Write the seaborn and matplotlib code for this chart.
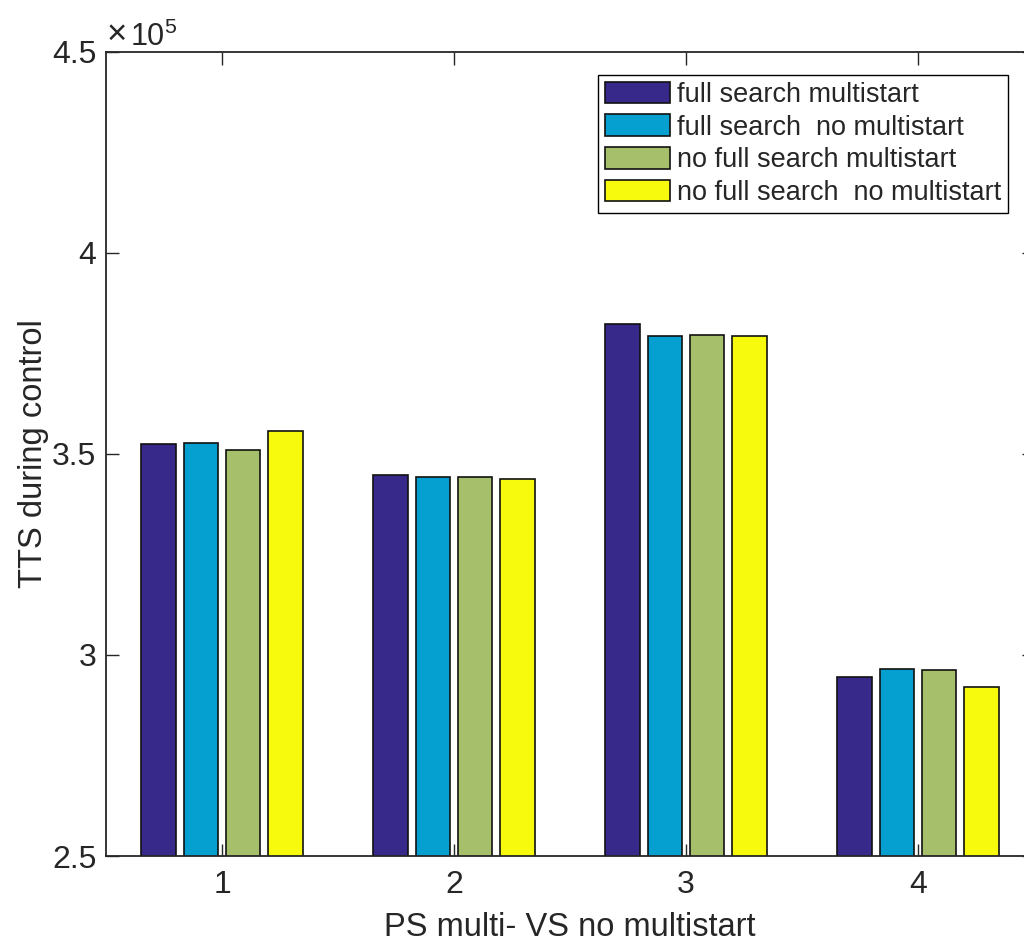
import matplotlib
matplotlib.use("Agg")
import matplotlib.pyplot as plt
import seaborn as sns
import pandas as pd
from matplotlib.ticker import FuncFormatter

categories = ["1", "2", "3", "4"]
series_names = ["full search multistart", "full search  no multistart",
                "no full search multistart", "no full search  no multistart"]
fs_multi = [3.525e5, 3.448e5, 3.823e5, 2.945e5]
fs_nomulti = [3.527e5, 3.443e5, 3.794e5, 2.965e5]
nofs_multi = [3.510e5, 3.443e5, 3.796e5, 2.963e5]
nofs_nomulti = [3.557e5, 3.438e5, 3.794e5, 2.920e5]
colors = ["#36298a", "#05a0d0", "#a6bf6a", "#f8fa0d"]
yticks = [2.5e5, 3.0e5, 3.5e5, 4.0e5, 4.5e5]

rows = []
for name, vals in zip(series_names, [fs_multi, fs_nomulti, nofs_multi, nofs_nomulti]):
    for c, v in zip(categories, vals):
        rows.append({"group": c, "series": name, "TTS": v})
df = pd.DataFrame(rows)

sns.set_theme(style="white")
plt.rcParams["font.family"] = ["Liberation Sans", "DejaVu Sans"]
plt.rcParams["mathtext.fontset"] = "custom"
plt.rcParams["mathtext.rm"] = "Liberation Sans"
plt.rcParams["mathtext.it"] = "Liberation Sans"

fig = plt.figure(figsize=(10.24, 9.47), dpi=100)
ax = fig.add_axes([106/1024, 1 - 856/947, (1034 - 106)/1024, (856 - 52)/947])

sns.barplot(data=df, x="group", y="TTS", hue="series", order=categories,
            hue_order=series_names, palette=colors, width=0.725, gap=0.17,
            edgecolor="#111111", linewidth=1.2, errorbar=None, ax=ax, saturation=1)

ax.set_xlim(-0.5, 3.5)
ax.set_ylim(2.5e5, 4.5e5)
ax.set_yticks(yticks)
ax.yaxis.set_major_formatter(FuncFormatter(lambda v, p: "%g" % (v / 1e5)))
ax.tick_params(axis="both", direction="in", length=9, width=1.0, color="#262626",
               labelsize=23, labelcolor="#262626", top=True, right=True,
               left=True, bottom=True)
ax.tick_params(axis="y", pad=7)
ax.tick_params(axis="x", pad=10)
for s in ax.spines.values():
    s.set_visible(True)
    s.set_color("#262626")
    s.set_linewidth(1.3)

ax.set_xlabel("PS multi- VS no multistart", fontsize=23.5, color="#262626", labelpad=9)
ax.set_ylabel("TTS during control", fontsize=23.5, color="#262626", labelpad=2)
fig.text(107/1024, 1 - 44/947, "×", fontsize=25, color="#262626",
         ha="left", va="baseline")
fig.text(130/1024, 1 - 46/947, r"1$0^5$", fontsize=22, color="#262626",
         ha="left", va="baseline")
ax.grid(False)

leg = ax.legend(loc="upper right", bbox_to_anchor=(1008/1024, 1 - 75/947),
                bbox_transform=fig.transFigure, borderaxespad=0, fontsize=19.5,
                frameon=True, fancybox=False, edgecolor="black", framealpha=1,
                handlelength=2.4, handleheight=0.85, handletextpad=0.25,
                labelspacing=0.24, borderpad=0.25, title=None)
leg.get_frame().set_linewidth(1.0)

fig.savefig("out.png", dpi=100, facecolor="white")
